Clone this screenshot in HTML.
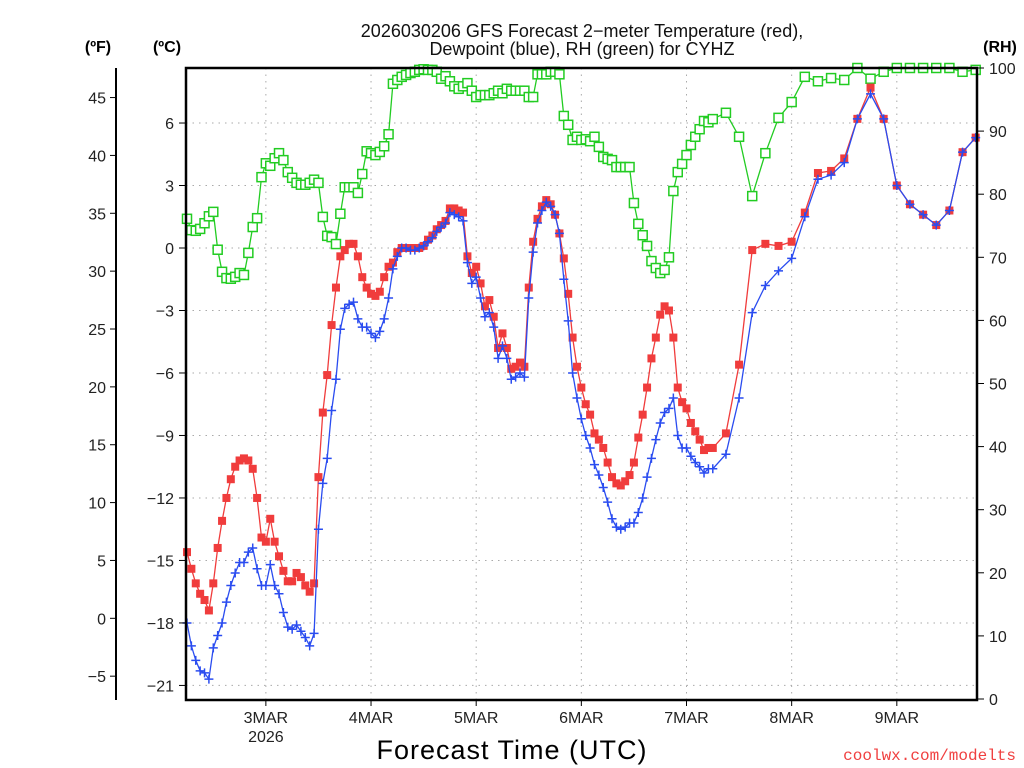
<!DOCTYPE html>
<html><head><meta charset="utf-8"><style>
html,body{margin:0;padding:0;background:#fff;}
svg{display:block;font-family:"Liberation Sans",sans-serif;}
</style></head><body>
<svg id="chart" width="1024" height="768" viewBox="0 0 1024 768" xmlns="http://www.w3.org/2000/svg">
<text x="582" y="37" font-size="18" text-anchor="middle" fill="#111">2026030206 GFS Forecast 2−meter Temperature (red),</text>
<text x="582" y="55" font-size="18" text-anchor="middle" fill="#111">Dewpoint (blue), RH (green) for CYHZ</text>
<text x="98" y="52" font-size="16" font-weight="bold" text-anchor="middle">(ºF)</text>
<text x="167" y="52" font-size="16" font-weight="bold" text-anchor="middle">(ºC)</text>
<text x="1000" y="52" font-size="16" font-weight="bold" text-anchor="middle">(RH)</text>
<text x="512" y="759" font-size="27" text-anchor="middle" fill="#000" letter-spacing="1">Forecast Time (UTC)</text>
<text x="1016" y="760" font-size="16" text-anchor="end" fill="#f04040" font-family="Liberation Mono, monospace">coolwx.com/modelts</text>
<g id="grid"></g><g id="series"></g><g id="axes"></g>
</svg>
<script>
const tempC = [-14.6,-15.4,-16.1,-16.6,-16.9,-17.4,-16.1,-14.4,-13.1,-12.0,-11.1,-10.5,-10.2,-10.1,-10.2,-10.6,-12.0,-13.9,-14.1,-13.0,-14.1,-14.8,-15.5,-16.0,-16.0,-15.6,-15.8,-16.2,-16.5,-16.1,-11.0,-7.9,-6.1,-3.7,-1.9,-0.4,-0.1,0.2,0.2,-0.4,-1.4,-1.9,-2.2,-2.3,-2.1,-1.4,-0.9,-0.7,-0.2,0.0,0.0,0,0,0,0.1,0.4,0.6,0.9,1.1,1.3,1.9,1.9,1.8,1.7,-0.4,-1.2,-0.9,-1.7,-2.8,-2.5,-3.3,-4.8,-4.1,-4.8,-5.8,-5.7,-5.5,-5.7,-1.9,0.3,1.4,2.0,2.3,2.1,1.6,0.7,-0.5,-2.2,-4.3,-5.7,-6.7,-7.5,-8.0,-8.9,-9.2,-9.6,-10.3,-11.0,-11.3,-11.4,-11.2,-10.9,-10.3,-9.1,-8.0,-6.7,-5.3,-4.3,-3.2,-2.8,-3.0,-4.3,-6.7,-7.4,-7.7,-8.4,-8.8,-9.2,-9.7,-9.6,-9.6,
-8.9,-5.6,-0.1,0.2,0.1,0.3,1.7,3.6,3.7,4.3,6.2,7.7,6.2,3.0,2.1,1.6,1.1,1.8,4.6,5.3];
const dewC = [-18.0,-19.1,-19.8,-20.3,-20.4,-20.7,-19.2,-18.6,-18.0,-17.0,-16.2,-15.6,-15.1,-15.1,-14.6,-14.4,-15.4,-16.2,-16.2,-15.2,-16.2,-16.6,-17.5,-18.2,-18.3,-18.1,-18.4,-18.7,-19.1,-18.5,-13.5,-11.3,-10.1,-7.8,-6.3,-3.9,-2.9,-2.7,-2.6,-3.4,-3.8,-3.8,-4.1,-4.3,-4.0,-3.4,-2.4,-1.0,-0.4,0.0,0.0,-0.1,-0.1,0.0,0.1,0.3,0.5,0.8,1.0,1.2,1.7,1.6,1.5,1.3,-0.7,-1.7,-1.4,-2.4,-3.3,-3.1,-3.8,-5.3,-4.7,-5.3,-6.3,-6.2,-6.0,-6.2,-2.4,-0.2,1.2,1.8,2.2,2.0,1.6,0.7,-1.5,-3.5,-6.0,-7.2,-8.2,-9.0,-9.6,-10.4,-10.9,-11.5,-12.2,-13.0,-13.4,-13.5,-13.4,-13.2,-13.2,-12.7,-12.0,-11.0,-10.1,-9.2,-8.4,-7.9,-7.7,-7.2,-9.0,-9.6,-9.6,-10.0,-10.3,-10.5,-10.8,-10.6,-10.6,
-9.9,-7.2,-3.1,-1.8,-1.1,-0.5,1.5,3.3,3.5,4.1,6.2,7.4,6.2,3.0,2.1,1.6,1.1,1.8,4.6,5.3];
const rhPct = [76.1,74.3,74.2,74.5,75.4,76.5,77.2,71.2,67.7,66.7,66.6,66.9,67.5,67.2,70.7,74.8,76.2,82.7,84.9,84.5,85.7,86.5,85.4,83.5,82.6,81.8,81.5,81.5,81.8,82.3,81.8,76.4,73.4,73.2,72.1,76.9,81.1,81.1,81.1,80.2,83.2,86.8,86.5,86.2,86.7,87.6,89.5,97.5,98.1,98.6,98.9,99.2,99.4,99.7,99.8,99.7,99.7,99.4,98.3,98.7,97.9,97.1,96.7,97.1,97.6,96.4,95.4,95.7,95.7,95.7,96.0,96.4,96.0,96.7,96.4,96.4,96.4,96.4,95.4,95.4,99.0,99.0,99.0,99.4,99.4,99.0,92.4,91.0,88.6,89.1,88.6,88.7,88.4,89.1,87.5,85.9,85.6,85.4,84.3,84.3,84.3,84.3,78.6,75.3,73.5,71.8,69.4,68.3,67.5,68.0,70.0,80.5,83.5,84.8,86.2,87.8,89.1,90.3,91.6,91.4,91.9,
92.9,89.1,79.7,86.5,92.1,94.6,98.6,97.9,98.4,98.1,100,98.3,99.4,100,100,100,100,100,99.4,99.7];
const celsiusTicks = [6,3,0,-3,-6,-9,-12,-15,-18,-21];
const fahrenheitTicks = [45,40,35,30,25,20,15,10,5,0,-5];
const rhTicks = [100,90,80,70,60,50,40,30,20,10,0];
const dayLabels = ["3MAR","4MAR","5MAR","6MAR","7MAR","8MAR","9MAR"];
const dayHours = [18,42,66,90,114,138,162];

const NS="http://www.w3.org/2000/svg";
const L=186,R=977,T=68,B=700;
const hoursOf = i => i<=120 ? i : 120+(i-120)*3;
const xs = h => L+1+h*(R-L-1)/180.3;
const yC = c => 248 - c*20.83;
const yF = f => yC((f-32)*5/9);
const yRH = r => 699 - r*6.31;
function mk(tag,attrs,parent){const e=document.createElementNS(NS,tag);for(const k in attrs)e.setAttribute(k,attrs[k]);parent.appendChild(e);return e;}
const grid=document.getElementById('grid'),ser=document.getElementById('series'),ax=document.getElementById('axes');
// grid
celsiusTicks.forEach(c=>{const y=yC(c);
 const g=mk('line',{x1:L,x2:R,y1:y,y2:y,stroke:'#aaa','stroke-dasharray':'1.5 5'},grid);
 
 
 const t=mk('line',{x1:L-7,x2:L,y1:y,y2:y,stroke:'#000'},ax);
 
 
 const tx=mk('text',{x:L-12,y:y+6,'font-size':16,'text-anchor':'end',fill:'#222'},ax);tx.textContent=c<0?'−'+Math.abs(c):c;
 
 
});
fahrenheitTicks.forEach(f=>{const y=yF(f);
 const t=mk('line',{x1:110,x2:116,y1:y,y2:y,stroke:'#000'},ax);
 
 
 const tx=mk('text',{x:106,y:y+6,'font-size':16,'text-anchor':'end',fill:'#222'},ax);tx.textContent=f<0?'−'+Math.abs(f):f;
 
 
});
rhTicks.forEach(r=>{const y=yRH(r);
 const t=mk('line',{x1:R,x2:R+7,y1:y,y2:y,stroke:'#000'},ax);
 
 
 const tx=mk('text',{x:R+12,y:y+6,'font-size':16,fill:'#222'},ax);tx.textContent=r;
 
 
});
dayHours.forEach((h,i)=>{const x=xs(h);
 const g=mk('line',{x1:x,x2:x,y1:T,y2:B,stroke:'#aaa','stroke-dasharray':'1.5 5'},grid);
 
 
 const t=mk('line',{x1:x,x2:x,y1:B,y2:B+6,stroke:'#000'},ax);
 
 
 const tx=mk('text',{x:x,y:723,'font-size':16,'text-anchor':'middle',fill:'#222'},ax);tx.textContent=dayLabels[i];
 
 
});
const yr=mk('text',{x:xs(dayHours[0]),y:742,'font-size':16,'text-anchor':'middle',fill:'#222'},ax);yr.textContent='2026';


// frame
const fr=mk('path',{d:`M${L},${T}H${R}V${B}H${L}Z`,fill:'none',stroke:'#000','stroke-width':2.5},ax);


const fl=mk('line',{x1:116,x2:116,y1:T,y2:B,stroke:'#000','stroke-width':2},ax);


// series
function series(vals,yfn,color,name,marker){
 const g=mk('g',{},ser);
 
 
 const pts=vals.map((v,i)=>[xs(hoursOf(i)),yfn(v)]);
 const ln=mk('polyline',{points:pts.map(p=>p[0].toFixed(1)+','+p[1].toFixed(1)).join(' '),fill:'none',stroke:color,'stroke-width':1.3},g);
 
 
 pts.forEach(p=>{let m;
  if(marker==='fill'){m=mk('rect',{x:p[0]-4,y:p[1]-4,width:8,height:8,fill:color},g);}
  else if(marker==='open'){m=mk('rect',{x:p[0]-4.5,y:p[1]-4.5,width:9,height:9,fill:'#fff',stroke:color,'stroke-width':1.5},g);}
  else{m=mk('path',{d:`M${p[0]-4.5},${p[1]}h9M${p[0]},${p[1]-4.5}v9`,stroke:color,'stroke-width':1.5},g);}
  
  
 });
}
series(rhPct,yRH,'#22cc22','rh','open');
series(tempC,yC,'#f03c3c','temperature','fill');
series(dewC,yC,'#2a4cf0','dewpoint','plus');
</script>
</body></html>
